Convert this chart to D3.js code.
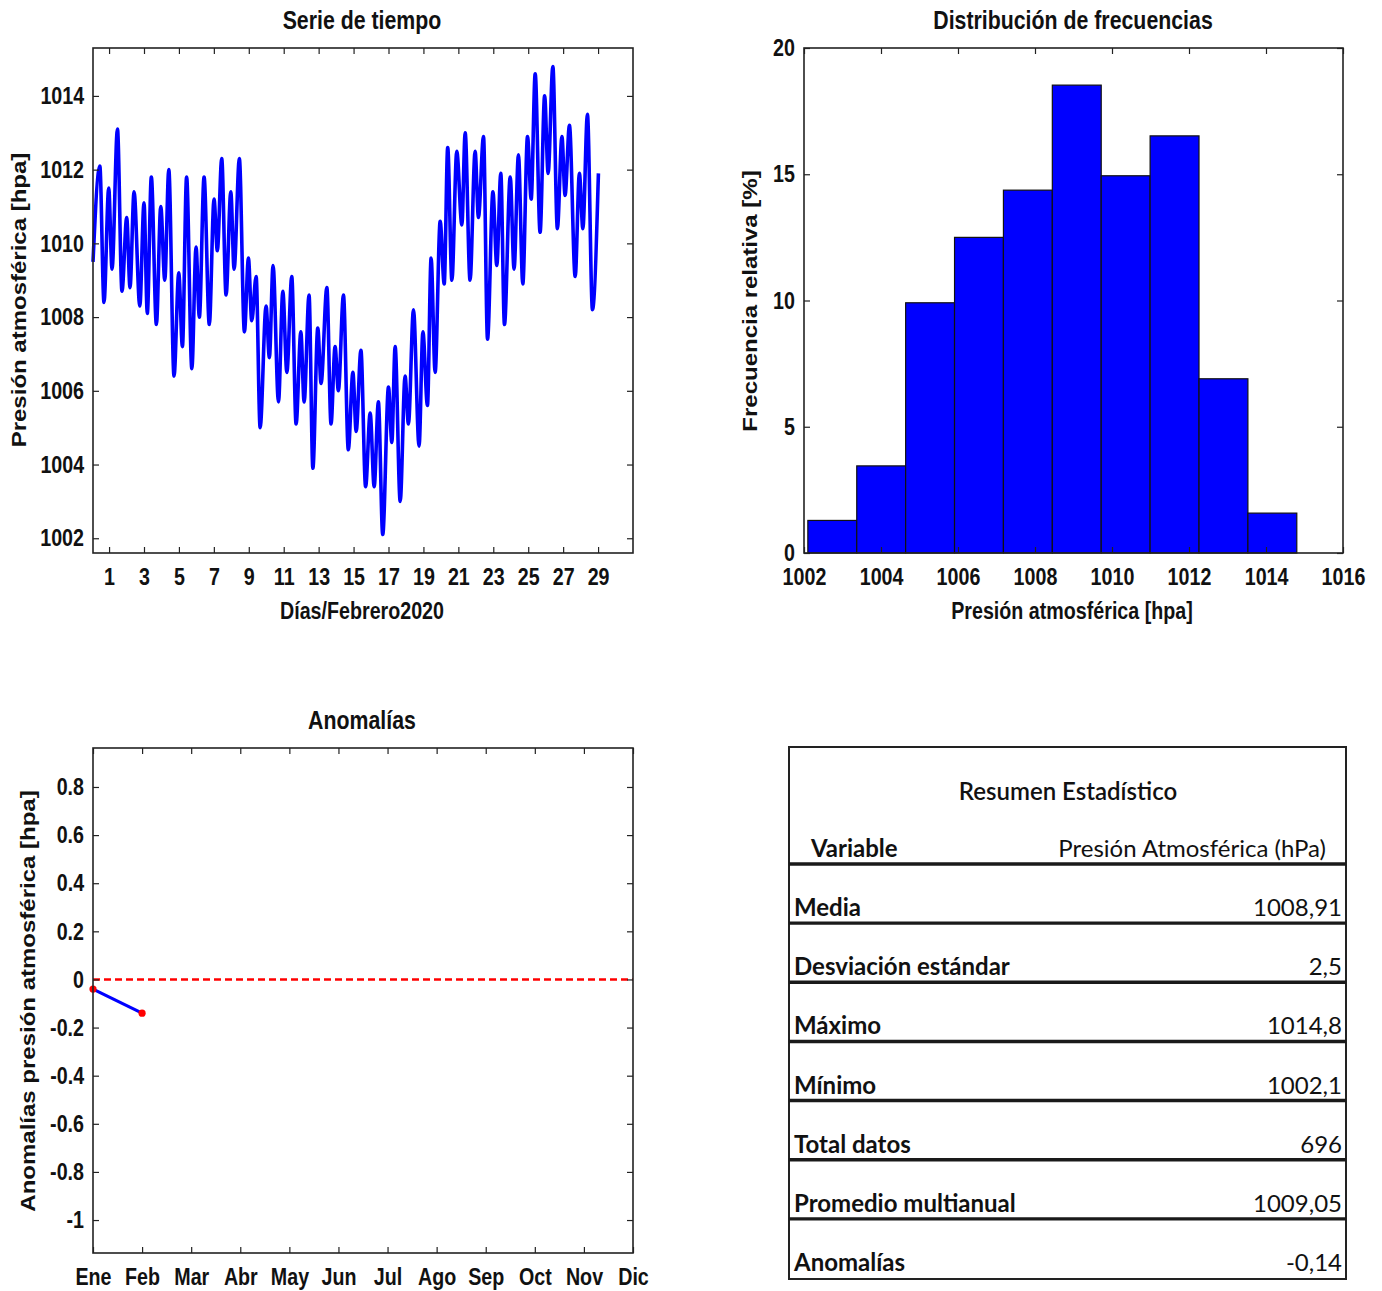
<!DOCTYPE html>
<html>
<head>
<meta charset="utf-8">
<script src="https://cdn.jsdelivr.net/npm/d3@7"></script>
<style>
  body { margin: 0; background: #fff; }
  svg text { font-family: "Liberation Sans", Arial, sans-serif; font-weight: bold; fill: #111; }
  /* the reference is squeezed horizontally, so the text looks narrow */
  .sq { transform-box: fill-box; transform-origin: center; transform: scaleX(0.82); }
  .sq-r { transform-box: fill-box; transform-origin: right center; transform: scaleX(0.82); }
  svg .tabla text { font-family: Lato, "Open Sans", sans-serif; }
  svg .tabla text.fino { font-weight: normal; }
  svg .tabla text.medio { font-weight: 600; }
</style>
</head>
<body>
<script>
// ---- Serie de tiempo (picos y valles) ----
var dias = [0.08, 0.47, 0.71, 0.98, 1.17, 1.48, 1.74, 2.01, 2.20, 2.43, 2.76, 3.00, 3.19, 3.42, 3.71, 3.96,
  4.19, 4.42, 4.72, 4.99, 5.20, 5.44, 5.74, 5.98, 6.17, 6.44, 6.74, 7.01, 7.20, 7.45, 7.70, 7.97, 8.16, 8.46,
  8.75, 8.98, 9.17, 9.42, 9.65, 9.99, 10.18, 10.39, 10.70, 10.95, 11.18, 11.46, 11.71, 11.98, 12.17, 12.45,
  12.67, 12.95, 13.14, 13.47, 13.71, 13.94, 14.13, 14.42, 14.70, 14.96, 15.15, 15.42, 15.69, 15.95, 16.18,
  16.42, 16.67, 17.00, 17.19, 17.38, 17.67, 17.95, 18.14, 18.43, 18.75, 18.97, 19.23, 19.44, 19.67, 19.96,
  20.19, 20.39, 20.63, 20.91, 21.20, 21.39, 21.67, 21.96, 22.15, 22.44, 22.67, 22.98, 23.20, 23.43, 23.64,
  23.97, 24.19, 24.44, 24.69, 24.96, 25.17, 25.40, 25.68, 25.94, 26.14, 26.41, 26.67, 26.93, 27.11, 27.36,
  27.69, 27.93, 28.13, 28.39, 28.68, 29.02];
var presion = [1009.5, 1012.1, 1008.4, 1011.5, 1009.3, 1013.1, 1008.7, 1010.7, 1008.8, 1011.4, 1008.3, 1011.1,
  1008.1, 1011.8, 1007.8, 1011.0, 1009.0, 1012.0, 1006.4, 1009.2, 1007.2, 1011.8, 1006.6, 1009.9, 1008.0, 1011.8,
  1007.8, 1011.2, 1009.8, 1012.3, 1008.6, 1011.4, 1009.3, 1012.3, 1007.6, 1009.6, 1007.9, 1009.1, 1005.0, 1008.3,
  1006.9, 1009.4, 1005.7, 1008.7, 1006.5, 1009.1, 1005.1, 1007.6, 1005.7, 1008.6, 1003.9, 1007.7, 1006.2, 1008.8,
  1005.1, 1007.2, 1006.0, 1008.6, 1004.4, 1006.5, 1004.9, 1007.1, 1003.4, 1005.4, 1003.4, 1005.7, 1002.1, 1006.1,
  1004.6, 1007.2, 1003.0, 1006.4, 1005.1, 1008.2, 1004.5, 1007.6, 1005.6, 1009.6, 1006.5, 1010.6, 1008.9, 1012.6,
  1009.0, 1012.5, 1010.5, 1013.0, 1009.0, 1012.5, 1010.7, 1012.9, 1007.4, 1011.4, 1009.4, 1011.9, 1007.8, 1011.8,
  1009.3, 1012.4, 1008.9, 1012.9, 1011.2, 1014.6, 1010.3, 1014.0, 1011.9, 1014.8, 1010.4, 1012.9, 1011.3, 1013.2,
  1009.1, 1011.9, 1010.4, 1013.5, 1008.2, 1011.9];
var ticksDias = [1, 3, 5, 7, 9, 11, 13, 15, 17, 19, 21, 23, 25, 27, 29];
var ticksPresion = [1002, 1004, 1006, 1008, 1010, 1012, 1014];

// ---- Histograma ----
var limitesClase = [1002.1, 1003.37, 1004.64, 1005.91, 1007.18, 1008.45, 1009.72, 1010.99, 1012.26, 1013.53, 1014.8];
var frecuencia = [1.29, 3.45, 9.91, 12.5, 14.37, 18.53, 14.94, 16.52, 6.9, 1.58];
var ticksHistX = [1002, 1004, 1006, 1008, 1010, 1012, 1014, 1016];
var ticksHistY = [0, 5, 10, 15, 20];

// ---- Anomalias ----
var meses = ["Ene", "Feb", "Mar", "Abr", "May", "Jun", "Jul", "Ago", "Sep", "Oct", "Nov", "Dic"];
var anomalias = [-0.04, -0.14];
var ticksAnom = [-1, -0.8, -0.6, -0.4, -0.2, 0, 0.2, 0.4, 0.6, 0.8];

// ---- Resumen estadistico ----
var filasTabla = ["Media", "Desviación estándar", "Máximo", "Mínimo", "Total datos", "Promedio multianual", "Anomalías"];
var valoresTabla = ["1008,91", "2,5", "1014,8", "1002,1", "696", "1009,05", "-0,14"];

var svg = d3.select("body").append("svg")
    .attr("width", 1382)
    .attr("height", 1291);

// draws the box with inside ticks on all four sides, MATLAB style
function marco(g, x, y, w, h, xTicks, yTicks, xFmt, yFmt) {
    var tk = 6;
    g.append("g").attr("transform", "translate(0," + h + ")")
        .call(d3.axisBottom(x).tickValues(xTicks).tickSize(-tk).tickPadding(15).tickFormat(xFmt))
        .call(estiloEje, "sq");
    g.append("g")
        .call(d3.axisTop(x).tickValues(xTicks).tickSize(-tk).tickFormat(""))
        .call(estiloEje);
    g.append("g")
        .call(d3.axisLeft(y).tickValues(yTicks).tickSize(-tk).tickPadding(9).tickFormat(yFmt))
        .call(estiloEje, "sq-r");
    g.append("g").attr("transform", "translate(" + w + ",0)")
        .call(d3.axisRight(y).tickValues(yTicks).tickSize(-tk).tickFormat(""))
        .call(estiloEje);
    g.append("rect")
        .attr("width", w).attr("height", h)
        .attr("fill", "none").attr("stroke", "#222").attr("stroke-width", 1.6);
}

function estiloEje(sel, clase) {
    sel.attr("font-size", 24).attr("font-family", null);
    sel.select(".domain").remove();
    sel.selectAll(".tick line").attr("stroke", "#222").attr("stroke-width", 1.2);
    sel.selectAll(".tick text").attr("class", clase || null).attr("fill", "#111");
}

function titulo(g, x, y, txt, size) {
    g.append("text").attr("class", "sq")
        .attr("x", x).attr("y", y)
        .attr("text-anchor", "middle")
        .attr("font-size", size)
        .text(txt);
}

function tituloY(g, x, y, txt) {
    g.append("text")
        .attr("transform", "translate(" + x + "," + y + ") scale(0.82,1) rotate(-90)")
        .attr("text-anchor", "middle")
        .attr("font-size", 24)
        .text(txt);
}

// ================= Serie de tiempo =================
(function() {
    var left = 93, top = 48, w = 540, h = 505;
    var g = svg.append("g").attr("transform", "translate(" + left + "," + top + ")");
    var x = d3.scaleLinear().domain([0.08, 31]).range([0, w]);
    var y = d3.scaleLinear().domain([1001.6, 1015.3]).range([h, 0]);

    var datos = dias.map(function(d, i) { return {dia: d, p: presion[i]}; });
    var linea = d3.line()
        .x(function(d) { return x(d.dia); })
        .y(function(d) { return y(d.p); })
        .curve(d3.curveMonotoneX);

    g.append("path").datum(datos)
        .attr("d", linea)
        .attr("fill", "none")
        .attr("stroke", "#0000ff")
        .attr("stroke-width", 3.6)
        .attr("stroke-linejoin", "round");

    marco(g, x, y, w, h, ticksDias, ticksPresion, d3.format("d"), d3.format("d"));

    titulo(svg, 362, 29, "Serie de tiempo", 26);
    titulo(svg, 362, 619, "Días/Febrero2020", 24);
    tituloY(svg, 26, 300, "Presión atmosférica [hpa]");
})();

// ================= Histograma =================
(function() {
    var left = 804, top = 48, w = 539, h = 505;
    var g = svg.append("g").attr("transform", "translate(" + left + "," + top + ")");
    var x = d3.scaleLinear().domain([1002, 1016]).range([0, w]);
    var y = d3.scaleLinear().domain([0, 20]).range([h, 0]);

    g.selectAll("rect.barra")
        .data(frecuencia)
        .enter()
        .append("rect")
        .attr("class", "barra")
        .attr("x", function(d, i) { return x(limitesClase[i]); })
        .attr("width", function(d, i) { return x(limitesClase[i + 1]) - x(limitesClase[i]); })
        .attr("y", function(d) { return y(d); })
        .attr("height", function(d) { return h - y(d); })
        .attr("fill", "#0000ff")
        .attr("stroke", "#111")
        .attr("stroke-width", 1.2);

    marco(g, x, y, w, h, ticksHistX, ticksHistY, d3.format("d"), d3.format("d"));

    titulo(svg, 1073, 29, "Distribución de frecuencias", 26);
    titulo(svg, 1072, 619, "Presión atmosférica [hpa]", 24);
    tituloY(svg, 757, 301, "Frecuencia relativa [%]");
})();

// ================= Anomalias =================
(function() {
    var left = 93, top = 748, w = 540, h = 505;
    var g = svg.append("g").attr("transform", "translate(" + left + "," + top + ")");
    var x = d3.scalePoint().domain(meses).range([0, w]);
    var y = d3.scaleLinear().domain([-1.137, 0.962]).range([h, 0]);

    g.append("line")
        .attr("x1", 0).attr("x2", w)
        .attr("y1", y(0)).attr("y2", y(0))
        .attr("stroke", "#ff0000")
        .attr("stroke-width", 2.6)
        .attr("stroke-dasharray", "7,4");

    var puntos = anomalias.map(function(v, i) { return {mes: meses[i], v: v}; });
    g.append("path").datum(puntos)
        .attr("d", d3.line().x(function(d) { return x(d.mes); }).y(function(d) { return y(d.v); }))
        .attr("fill", "none")
        .attr("stroke", "#0000ff")
        .attr("stroke-width", 3.2);
    g.selectAll("circle")
        .data(puntos)
        .enter()
        .append("circle")
        .attr("cx", function(d) { return x(d.mes); })
        .attr("cy", function(d) { return y(d.v); })
        .attr("r", 3.6)
        .attr("fill", "#ff0000");

    marco(g, x, y, w, h, meses, ticksAnom, null, function(d) { return String(+d.toFixed(1)); });

    titulo(svg, 362, 729, "Anomalías", 26);
    tituloY(svg, 35, 1001, "Anomalías presión atmosférica [hpa]");
})();

// ================= Tabla =================
(function() {
    var left = 789, top = 747, right = 1346, bottom = 1279;
    var g = svg.append("g").attr("class", "tabla");
    var filaY = d3.scaleBand().domain(filasTabla).range([864, 1278]);

    g.append("rect")
        .attr("x", left).attr("y", top)
        .attr("width", right - left).attr("height", bottom - top)
        .attr("fill", "none").attr("stroke", "#222").attr("stroke-width", 2);

    g.append("text").attr("class", "medio")
        .attr("x", 1068).attr("y", 800)
        .attr("text-anchor", "middle")
        .attr("font-size", 24)
        .text("Resumen Estadístico");
    g.append("text")
        .attr("x", 811).attr("y", 857)
        .attr("font-size", 24)
        .text("Variable");
    g.append("text").attr("class", "fino")
        .attr("x", 1326).attr("y", 857)
        .attr("text-anchor", "end")
        .attr("font-size", 24)
        .text("Presión Atmosférica (hPa)");

    g.selectAll("line.regla")
        .data(filasTabla)
        .enter()
        .append("line")
        .attr("class", "regla")
        .attr("x1", left).attr("x2", right)
        .attr("y1", function(d) { return filaY(d); })
        .attr("y2", function(d) { return filaY(d); })
        .attr("stroke", "#1a1a1a")
        .attr("stroke-width", 3.4);

    g.selectAll("text.etq")
        .data(filasTabla)
        .enter()
        .append("text")
        .attr("class", "etq")
        .attr("x", 794)
        .attr("y", function(d) { return filaY(d) + filaY.bandwidth() - 7; })
        .attr("font-size", 24)
        .text(function(d) { return d; });

    g.selectAll("text.val")
        .data(valoresTabla)
        .enter()
        .append("text")
        .attr("class", "val fino")
        .attr("x", 1342)
        .attr("y", function(d, i) { return filaY(filasTabla[i]) + filaY.bandwidth() - 7; })
        .attr("text-anchor", "end")
        .attr("font-size", 24)
        .text(function(d) { return d; });
})();
</script>
</body>
</html>
